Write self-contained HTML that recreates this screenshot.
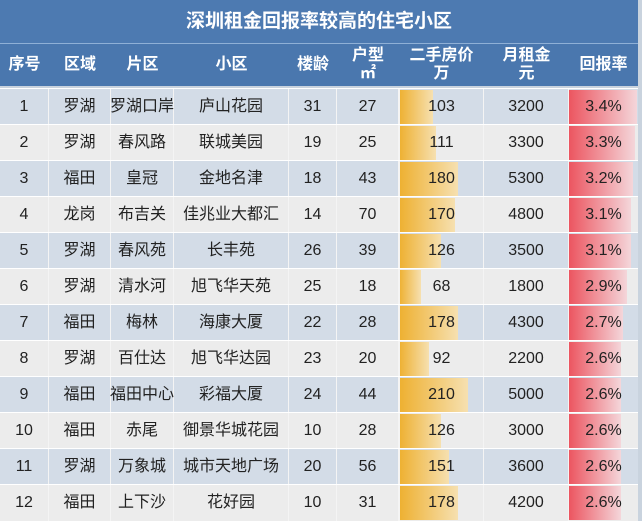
<!DOCTYPE html><html><head><meta charset="utf-8"><style>
body{margin:0;width:642px;height:520px;overflow:hidden;background:#c9d3de;font-family:"Liberation Sans","Noto Sans CJK SC",sans-serif;position:relative}
.t{position:absolute;left:0;top:0;width:638px;height:43px;background:#4d7ab1;color:#fff;font-size:19px;font-weight:bold;text-align:center;line-height:43px;border-bottom:1px solid #8fb0d6}
.h{position:absolute;left:0;top:44px;width:638px;height:42px;background:#4a77ae;color:#fff;font-weight:bold;font-size:16px}
.c{position:absolute;display:flex;align-items:center;justify-content:center;text-align:center;line-height:1.15}
.r{position:absolute;left:0;width:638px;height:36px;font-size:16px;color:#222}
.r .c{height:36px;top:0;border-right:1px solid #f4f4f4;box-sizing:border-box;white-space:nowrap}
.bar{position:absolute;top:1px;height:34px}
</style></head><body>
<div class="t">深圳租金回报率较高的住宅小区</div>
<div class="h">
<div class="c" style="left:0;width:49px;height:42px">序号</div>
<div class="c" style="left:49px;width:62px;height:42px">区域</div>
<div class="c" style="left:111px;width:63px;height:42px">片区</div>
<div class="c" style="left:174px;width:115px;height:42px">小区</div>
<div class="c" style="left:289px;width:48px;height:42px">楼龄</div>
<div class="c" style="left:337px;width:62px;height:42px">户型<br>㎡</div>
<div class="c" style="left:399px;width:85px;height:42px">二手房价<br>万</div>
<div class="c" style="left:484px;width:85px;height:42px">月租金<br>元</div>
<div class="c" style="left:569px;width:69px;height:42px">回报率</div>
</div>
<div id="rows"></div>
<script>
var d=[[1,"罗湖","罗湖口岸","庐山花园",31,27,103,3200,3.4],[2,"罗湖","春风路","联城美园",19,25,111,3300,3.3],[3,"福田","皇冠","金地名津",18,43,180,5300,3.2],[4,"龙岗","布吉关","佳兆业大都汇",14,70,170,4800,3.1],[5,"罗湖","春风苑","长丰苑",26,39,126,3500,3.1],[6,"罗湖","清水河","旭飞华天苑",25,18,68,1800,2.9],[7,"福田","梅林","海康大厦",22,28,178,4300,2.7],[8,"罗湖","百仕达","旭飞华达园",23,20,92,2200,2.6],[9,"福田","福田中心","彩福大厦",24,44,210,5000,2.6],[10,"福田","赤尾","御景华城花园",10,28,126,3000,2.6],[11,"罗湖","万象城","城市天地广场",20,56,151,3600,2.6],[12,"福田","上下沙","花好园",10,31,178,4200,2.6]];
var cols=[[0,49],[49,62],[111,63],[174,115],[289,48],[337,62]];
var h="";
d.forEach(function(r,i){
var bg=i%2==0?"#d3dce7":"#ececec";
h+='<div class="r" style="top:'+(88+i*36)+'px;background:'+bg+';border-top:1px solid #fff">';
for(var k=0;k<6;k++)h+='<div class="c" style="left:'+cols[k][0]+'px;width:'+cols[k][1]+'px">'+r[k]+'</div>';
h+='<div class="bar" style="left:399px;width:'+(r[6]*0.33)+'px;background:linear-gradient(90deg,#eeb030,#f6e0b0)"></div>';
h+='<div class="c" style="left:399px;width:85px;border-left:1px solid #f4f4f4">'+r[6]+'</div>';
h+='<div class="c" style="left:484px;width:85px">'+r[7]+'</div>';
h+='<div class="bar" style="left:569px;width:'+(r[8]/3.4*68)+'px;background:linear-gradient(90deg,#ec5560,#f4d6da)"></div>';
h+='<div class="c" style="left:569px;width:69px;border-right:none">'+r[8].toFixed(1)+'%</div>';
h+='</div>';
});
document.getElementById("rows").innerHTML=h;
</script>
</body></html>
